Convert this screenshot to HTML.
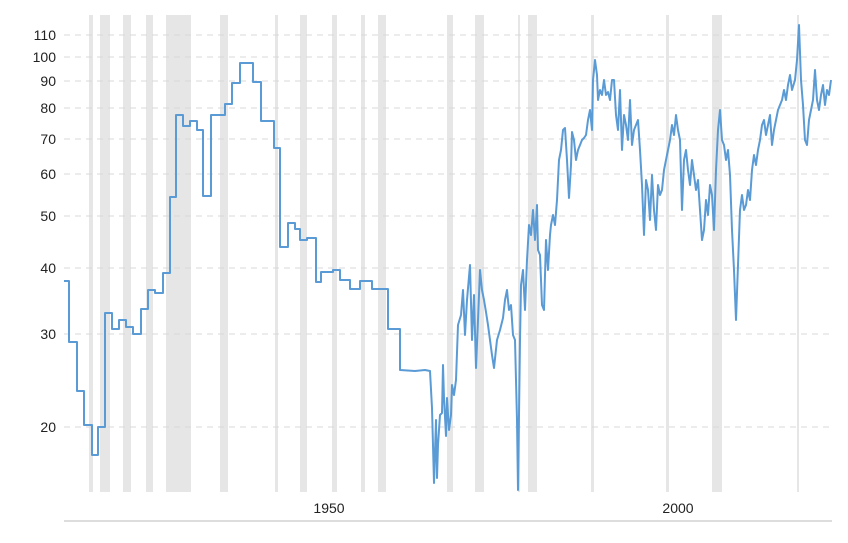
<!DOCTYPE html>
<html><head><meta charset="utf-8"><style>
html,body{margin:0;padding:0;background:#fff;}
svg{display:block;font-family:"Liberation Sans","DejaVu Sans",sans-serif;}
</style></head><body>
<svg width="848" height="543" viewBox="0 0 848 543">
<g fill="#e6e6e6">
<rect x="89" y="15" width="4" height="477"/>
<rect x="100" y="15" width="10" height="477"/>
<rect x="123" y="15" width="8" height="477"/>
<rect x="146" y="15" width="7" height="477"/>
<rect x="166" y="15" width="25" height="477"/>
<rect x="220" y="15" width="8" height="477"/>
<rect x="275" y="15" width="3" height="477"/>
<rect x="300" y="15" width="7" height="477"/>
<rect x="332" y="15" width="5" height="477"/>
<rect x="361" y="15" width="4" height="477"/>
<rect x="378" y="15" width="8" height="477"/>
<rect x="447" y="15" width="6" height="477"/>
<rect x="475" y="15" width="9" height="477"/>
<rect x="518" y="15" width="2" height="477"/>
<rect x="528" y="15" width="9" height="477"/>
<rect x="591" y="15" width="3" height="477"/>
<rect x="666" y="15" width="3" height="477"/>
<rect x="712" y="15" width="10" height="477"/>
<rect x="797" y="15" width="2" height="477"/>
</g>
<g stroke="#d8d8d8" stroke-width="1" stroke-dasharray="6,5">
<line x1="64" y1="35" x2="830" y2="35"/>
<line x1="64" y1="57" x2="830" y2="57"/>
<line x1="64" y1="81" x2="830" y2="81"/>
<line x1="64" y1="108" x2="830" y2="108"/>
<line x1="64" y1="139" x2="830" y2="139"/>
<line x1="64" y1="174" x2="830" y2="174"/>
<line x1="64" y1="216" x2="830" y2="216"/>
<line x1="64" y1="268" x2="830" y2="268"/>
<line x1="64" y1="334" x2="830" y2="334"/>
<line x1="64" y1="427" x2="830" y2="427"/>
</g>
<g font-size="14" fill="#222" text-anchor="end">
<text x="56" y="40">110</text>
<text x="56" y="62">100</text>
<text x="56" y="86">90</text>
<text x="56" y="113">80</text>
<text x="56" y="144">70</text>
<text x="56" y="179">60</text>
<text x="56" y="221">50</text>
<text x="56" y="273">40</text>
<text x="56" y="339">30</text>
<text x="56" y="432">20</text>
</g>
<line x1="64" y1="521" x2="832" y2="521" stroke="#ddd" stroke-width="2"/>
<g font-size="14" fill="#222" text-anchor="middle">
<text x="329" y="513">1950</text>
<text x="678" y="513">2000</text>
</g>
<polyline fill="none" stroke="#5b9bd5" stroke-width="2" stroke-linejoin="round" points="
64,281 69,281 69,342 77,342 77,391 84,391 84,425 92,425 92,455 98,455 98,427 105,427 105,313 112,313 112,329 119,329 119,320 126,320 126,327 133,327 133,334 141,334 141,309 148,309 148,290 155,290 155,293 163,293 163,273 170,273 170,197 176,197 176,115 183,115 183,126 190,126 190,121 197,121 197,130 203,130 203,196 211,196 211,115 225,115 225,104 232,104 232,83 240,83 240,63 253,63 253,82 261,82 261,121 274,121 274,148 280,148 280,247 288,247 288,223 295,223 295,229 300,229 300,240 307,240 307,238 316,238 316,282 321,282 321,272 333,272 333,270 340,270 340,280 350,280 350,289 360,289 360,281 372,281 372,289 388,289 388,329 400,329 400,370 415,371 425,370 430,371
432,408 434,483 436,420 437,478 438,445 440,415 442,413 443,365 444,398 446,436 447,398 449,430 451,415 452,385 454,395 456,380 458,325 461,315 463,290 465,335 467,300 470,265 472,340 474,295 476,368 478,320 480,270 482,290 484,300 486,312 488,325 492,355 494,368 497,340 500,330 503,318 505,300 507,290 509,310 511,305 513,335 515,340 517,420 518,490 520,340 521,285 523,270 525,310 527,260 529,225 531,235 533,210 535,240 537,205 538,250 540,255 542,305 544,310 546,240 548,270 550,235 551,225 553,215 555,225 557,200 559,160 561,150 563,130 565,128 567,160 569,198 571,165 572,132 574,140 576,160 578,150 580,145 582,140 584,138 586,135 588,120 590,110 592,130 593,80 595,60 597,75 598,100 600,90 602,95 604,80 606,95 608,92 610,100 612,80 614,80 616,115 618,130 620,90 622,150 624,115 626,125 628,140 630,100 632,145 634,130 636,125 638,120 640,150 642,185 644,235 646,180 648,190 650,220 652,175 654,210 656,230 658,185 660,195 662,190 664,170 666,160 668,150 670,140 672,125 674,135 676,115 678,130 680,140 682,210 684,160 686,150 688,170 690,185 692,160 694,175 696,190 698,180 700,210 702,240 704,230 706,200 708,215 710,185 712,195 714,230 716,170 718,130 720,110 722,140 724,145 726,160 728,150 730,175 732,230 734,270 736,320 738,265 740,210 742,195 744,210 746,205 748,190 750,200 752,170 754,155 756,165 758,150 760,140 762,125 764,120 766,135 768,125 770,115 772,145 774,130 776,120 778,110 780,105 782,100 784,90 786,100 788,85 790,75 792,90 795,80 797,60 799,25 801,80 803,105 805,140 807,145 809,120 811,110 813,100 815,70 817,100 819,110 821,95 823,85 825,105 827,90 829,95 831,80"/>
</svg>
</body></html>
